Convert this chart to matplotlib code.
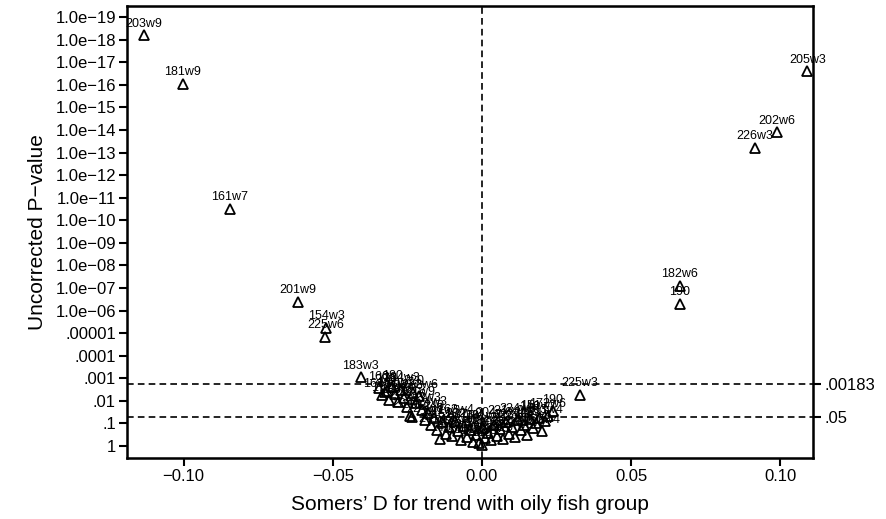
import numpy as np
import matplotlib.pyplot as plt

plt.rcParams['font.family'] = ['Liberation Sans', 'DejaVu Sans']

# labelled outliers: Somers' D and -log10(uncorrected p)
out_names = ["203w9", "181w9", "161w7", "201w9", "154w3", "225w6", "183w3", "200",
             "205w3", "202w6", "226w3", "182w6", "190", "225w3", "190"]
out_d = [-0.1134, -0.1003, -0.0846, -0.0617, -0.0523, -0.0525, -0.0406, -0.0326,
         0.1091, 0.0990, 0.0916, 0.0664, 0.0664, 0.0329, 0.0238]
out_logp = [18.2, 16.05, 10.5, 6.4, 5.25, 4.85, 3.05, 2.4,
            16.6, 13.9, 13.2, 7.1, 6.3, 2.26, 1.55]

# the dense cluster around zero
cl_names = ["160", "161w9", "170", "171w8", "180", "181w7", "183w6", "184w3",
            "203w6", "204w6", "204w3", "210", "220", "221w9", "222w6", "223w3",
            "224w6", "224w3", "230", "240", "241w9", "140", "141w5", "150",
            "151w7", "162w4", "163w4", "172w6", "185w3", "202w9", "221w7", "160",
            "161w9", "170", "171w8", "180", "181w7", "183w6", "184w3", "203w6",
            "204w6", "204w3", "210", "220", "221w9", "222w6", "223w3", "224w6",
            "224w3", "230", "240", "241w9", "140", "141w5", "150", "151w7",
            "162w4", "163w4", "172w6"]
cl_d = [-0.0345, -0.0335, -0.032, -0.031, -0.030, -0.029, -0.028, -0.027,
        -0.026, -0.025, -0.024, -0.0235, -0.023, -0.022, -0.021, -0.020,
        -0.019, -0.018, -0.017, -0.016, -0.015, -0.014, -0.0135, -0.012,
        -0.011, -0.010, -0.009, -0.008, -0.007, -0.006, -0.005, -0.004,
        -0.003, -0.002, -0.001, 0.0, 0.0005, 0.001, 0.002, 0.003,
        0.004, 0.005, 0.006, 0.007, 0.008, 0.009, 0.010, 0.011,
        0.012, 0.013, 0.014, 0.015, 0.016, 0.017, 0.018, 0.019,
        0.020, 0.021, 0.022]
cl_logp = [2.55, 2.25, 2.45, 2.05, 2.6, 2.3, 1.95, 2.5,
           2.15, 1.75, 1.35, 1.3, 2.35, 1.9, 2.2, 1.6,
           1.15, 1.45, 0.95, 1.25, 0.7, 0.3, 1.05, 0.55,
           0.85, 0.45, 1.1, 0.65, 0.25, 0.9, 0.4, 0.7,
           0.2, 0.5, 0.15, 0.05, 0.8, 0.35, 0.6, 0.25,
           0.95, 0.45, 0.75, 0.3, 1.05, 0.55, 0.85, 0.4,
           1.15, 0.7, 0.95, 0.5, 1.2, 0.8, 1.0, 1.25,
           0.65, 1.1, 1.35]

ytick_vals = list(range(20))
ytick_labels = ["1", ".1", ".01", ".001", ".0001", ".00001"] + \
    ["1.0e\u2212%02d" % k for k in range(6, 20)]
xtick_vals = [-0.10, -0.05, 0.0, 0.05, 0.10]
xtick_labels = ["\u22120.10", "\u22120.05", "0.00", "0.05", "0.10"]

thr_p = [0.00183, 0.05]
thr_labels = [".00183", ".05"]

fig = plt.figure(figsize=(8.87, 5.19), dpi=100)
ax = fig.add_axes([0.1432, 0.1175, 0.7734, 0.8709])

all_d = out_d + cl_d
all_logp = out_logp + cl_logp
ax.plot(all_d, all_logp, linestyle='none', marker='^', markersize=6.5,
        markerfacecolor='none', markeredgecolor='black', markeredgewidth=1.3)

for name, d, lp in zip(out_names + cl_names, all_d, all_logp):
    ax.annotate(name, (d, lp), xytext=(0, 4), textcoords='offset points',
                ha='center', va='bottom', fontsize=9)

for p in thr_p:
    ax.axhline(-np.log10(p), color='black', linestyle=(0, (4, 2.5)), linewidth=1.2)
ax.axvline(0, color='black', linestyle=(0, (4, 2.5)), linewidth=1.2)

ax.set_xlim(-0.119, 0.111)
ax.set_ylim(-0.53, 19.49)
ax.set_yticks(ytick_vals)
ax.set_yticklabels(ytick_labels, fontsize=12)
ax.set_xticks(xtick_vals)
ax.set_xticklabels(xtick_labels, fontsize=12)
ax.tick_params(direction='out', length=6, width=1.5, pad=2)
for s in ax.spines.values():
    s.set_linewidth(1.8)

ax2 = ax.twinx()
ax2.set_ylim(ax.get_ylim())
ax2.set_yticks([-np.log10(p) for p in thr_p])
ax2.set_yticklabels(thr_labels, fontsize=12)
ax2.tick_params(direction='out', length=6, width=1.5, pad=2)

ax.set_xlabel("Somers\u2019 D for trend with oily fish group", fontsize=15, labelpad=8)
ax.set_ylabel("Uncorrected P\u2212value", fontsize=15, labelpad=6)

fig.savefig("out.png", dpi=100)
